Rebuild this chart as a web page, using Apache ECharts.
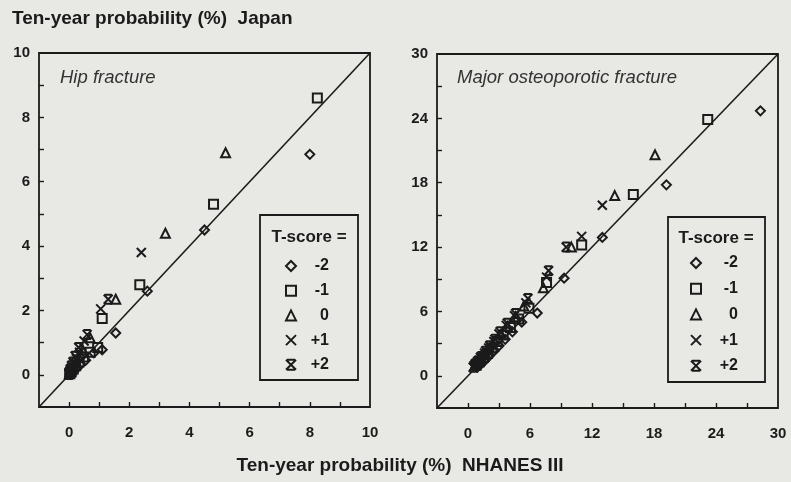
<!DOCTYPE html>
<html>
<head>
<meta charset="utf-8">
<script src="https://cdn.jsdelivr.net/npm/echarts@6/dist/echarts.min.js"></script>
<style>
  html, body { margin: 0; padding: 0; background: #e8e8e5; }
  #chart { width: 791px; height: 482px; }
</style>
</head>
<body>
<div id="chart"></div>
<script>
// Ten-year fracture probability: Japan (y) versus NHANES III (x), by T-score.
const tScores = ['-2', '-1', '0', '+1', '+2'];

// Hip fracture panel, [NHANES III %, Japan %]
const hipTm2 = [[8.0, 6.85], [4.5, 4.5], [2.6, 2.6], [1.55, 1.3], [1.1, 0.78], [0.82, 0.68], [0.55, 0.45], [0.38, 0.32], [0.25, 0.2], [0.15, 0.12], [0.08, 0.06], [0.03, 0.02]];
const hipTm1 = [[8.25, 8.6], [4.8, 5.3], [2.35, 2.8], [1.1, 1.75], [0.95, 0.85], [0.7, 0.7], [0.48, 0.55], [0.33, 0.4], [0.22, 0.28], [0.14, 0.18], [0.07, 0.1], [0.02, 0.04]];
const hipT0 = [[5.2, 6.9], [3.2, 4.4], [1.55, 2.35], [0.7, 1.15], [0.45, 0.78], [0.32, 0.55], [0.22, 0.38], [0.14, 0.26], [0.08, 0.16], [0.04, 0.08], [0.01, 0.03]];
const hipTp1 = [[2.4, 3.8], [1.05, 2.05], [0.5, 1.05], [0.35, 0.7], [0.24, 0.5], [0.16, 0.36], [0.1, 0.25], [0.05, 0.15], [0.02, 0.08], [0.0, 0.03]];
const hipTp2 = [[1.3, 2.35], [0.6, 1.25], [0.32, 0.85], [0.2, 0.58], [0.13, 0.4], [0.08, 0.28], [0.04, 0.18], [0.02, 0.1], [0.0, 0.05], [0.0, 0.01]];

// Major osteoporotic fracture panel, [NHANES III %, Japan %]
const majTm2 = [[28.3, 24.7], [19.2, 17.8], [13.0, 12.9], [9.3, 9.1], [6.7, 5.85], [5.2, 5.0], [4.3, 4.1], [3.6, 3.4], [3.0, 2.8], [2.5, 2.3], [2.0, 1.8], [1.6, 1.4], [1.2, 1.05], [0.9, 0.8]];
const majTm1 = [[23.2, 23.9], [16.0, 16.9], [11.0, 12.2], [7.6, 8.7], [5.9, 6.3], [4.9, 5.3], [4.1, 4.5], [3.4, 3.8], [2.8, 3.2], [2.3, 2.6], [1.9, 2.1], [1.5, 1.7], [1.1, 1.3], [0.8, 1.0]];
const majT0 = [[18.1, 20.6], [14.2, 16.8], [10.0, 12.0], [7.3, 8.2], [5.4, 6.5], [4.6, 5.5], [3.8, 4.6], [3.2, 3.9], [2.6, 3.2], [2.1, 2.6], [1.7, 2.1], [1.3, 1.7], [1.0, 1.3], [0.7, 1.0]];
const majTp1 = [[13.0, 15.9], [11.0, 13.0], [7.6, 9.2], [5.6, 6.8], [4.5, 5.6], [3.7, 4.7], [3.0, 3.9], [2.5, 3.2], [2.0, 2.6], [1.6, 2.1], [1.2, 1.7], [0.9, 1.3], [0.6, 0.95]];
const majTp2 = [[9.5, 12.0], [7.8, 9.8], [5.8, 7.2], [4.6, 5.8], [3.8, 4.9], [3.1, 4.1], [2.6, 3.4], [2.1, 2.8], [1.7, 2.3], [1.3, 1.8], [1.0, 1.4], [0.7, 1.1], [0.5, 0.8]];

// Axis extents, tick marks and tick labels
const hipRange = [-1, 10];
const hipTicks = [0, 1, 2, 3, 4, 5, 6, 7, 8, 9];
const hipLabels = [0, 2, 4, 6, 8, 10];
const majRange = [-3, 30];
const majTicks = [0, 3, 6, 9, 12, 15, 18, 21, 24, 27];
const majLabels = [0, 6, 12, 18, 24, 30];

const ink = '#1b1b1b';
const font = "'Liberation Sans', Arial, Helvetica, sans-serif";

// Hollow marker shapes drawn as outlines
const symbols = {
  '-2': 'diamond',
  '-1': 'rect',
  '0': 'triangle',
  '+1': 'path://M0,0 L10,10 M10,0 L0,10',
  '+2': 'path://M0,0 L10,10 M10,0 L0,10 M1,0 L9,0 M1,10 L9,10'
};

function axis(range, ticks, labels, isX) {
  return {
    type: 'value',
    min: range[0],
    max: range[1],
    axisLine: { show: false, onZero: false },
    splitLine: { show: false },
    axisTick: { show: true, inside: true, length: 5, customValues: ticks, lineStyle: { color: ink, width: 1.4 } },
    axisLabel: {
      customValues: labels,
      margin: isX ? 18 : 9,
      color: ink, fontFamily: font, fontWeight: 'bold', fontSize: 15
    }
  };
}

function scatter(name, data, gi) {
  return {
    type: 'scatter', name: name, data: data,
    xAxisIndex: gi, yAxisIndex: gi,
    symbol: symbols[name], symbolSize: 9,
    itemStyle: { color: 'transparent', borderColor: ink, borderWidth: 2, opacity: 1 },
    silent: true, z: 3
  };
}

function identity(range, gi) {
  return {
    type: 'line', data: [[range[0], range[0]], [range[1], range[1]]],
    xAxisIndex: gi, yAxisIndex: gi,
    symbol: 'none', silent: true, z: 2,
    lineStyle: { color: ink, width: 1.6 }
  };
}

function legend(left, top, width, gap) {
  return {
    orient: 'vertical', left: left, top: top,
    itemWidth: 10, itemHeight: 10, itemGap: gap,
    selectedMode: false,
    data: tScores,
    formatter: n => '{v|' + n + '}',
    textStyle: {
      rich: { v: { width: width, align: 'right', fontFamily: font, fontWeight: 'bold', fontSize: 16, lineHeight: 14, color: ink } }
    }
  };
}

const chart = echarts.init(document.getElementById('chart'), null, { renderer: 'canvas' });

const hipSets = [hipTm2, hipTm1, hipT0, hipTp1, hipTp2];
const majSets = [majTm2, majTm1, majT0, majTp1, majTp2];

chart.setOption({
  backgroundColor: '#e8e8e5',
  animation: false,
  grid: [
    { left: 39, top: 53, width: 331, height: 354, show: true, borderColor: ink, borderWidth: 1.8, backgroundColor: 'transparent' },
    { left: 437, top: 54, width: 341, height: 354, show: true, borderColor: ink, borderWidth: 1.8, backgroundColor: 'transparent' }
  ],
  xAxis: [axis(hipRange, hipTicks, hipLabels, true), Object.assign(axis(majRange, majTicks, majLabels, true), { gridIndex: 1 })],
  yAxis: [axis(hipRange, hipTicks, hipLabels, false), Object.assign(axis(majRange, majTicks, majLabels, false), { gridIndex: 1 })],
  legend: [legend(280, 253, 28, 8.7), legend(685, 250, 32, 9.7)],
  series: [identity(hipRange, 0), identity(majRange, 1)]
    .concat(tScores.map((t, i) => scatter(t, hipSets[i], 0)))
    .concat(tScores.map((t, i) => scatter(t, majSets[i], 1))),
  graphic: [
    { type: 'text', left: 12, top: 9, style: { text: 'Ten-year probability (%)  Japan', font: "bold 19px " + font, fill: ink } },
    { type: 'text', x: 400, y: 466, style: { text: 'Ten-year probability (%)  NHANES III', font: "bold 19px " + font, fill: ink, textAlign: 'center', textVerticalAlign: 'middle' } },
    { type: 'text', left: 60, top: 68, style: { text: 'Hip fracture', font: "italic 18.5px " + font, fill: '#333' } },
    { type: 'text', left: 457, top: 68, style: { text: 'Major osteoporotic fracture', font: "italic 18.5px " + font, fill: '#333' } },
    { type: 'rect', shape: { x: 260, y: 215, width: 98, height: 165 }, style: { fill: 'transparent', stroke: ink, lineWidth: 1.8 }, z: 1 },
    { type: 'rect', shape: { x: 668, y: 217, width: 97, height: 165 }, style: { fill: 'transparent', stroke: ink, lineWidth: 1.8 }, z: 1 },
    { type: 'text', x: 309, y: 237, style: { text: 'T-score =', font: "bold 17px " + font, fill: ink, textAlign: 'center', textVerticalAlign: 'middle' } },
    { type: 'text', x: 716, y: 238, style: { text: 'T-score =', font: "bold 17px " + font, fill: ink, textAlign: 'center', textVerticalAlign: 'middle' } }
  ]
});
</script>
</body>
</html>
